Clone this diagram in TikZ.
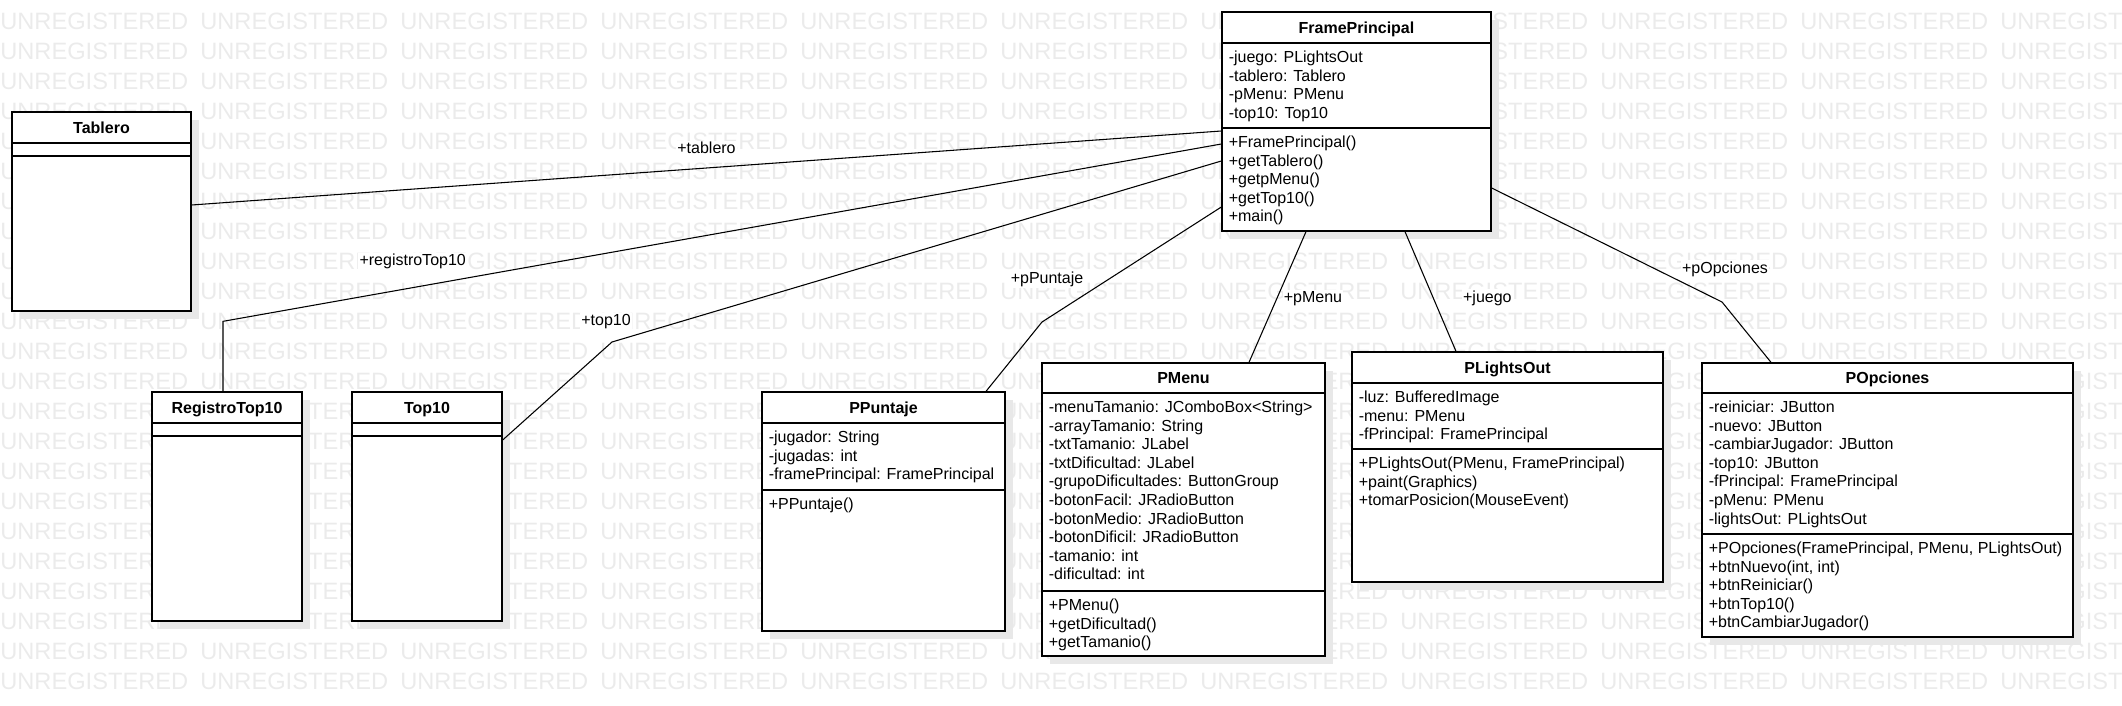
\documentclass[tikz,border=0pt]{standalone}
\usepackage{fontspec}
\setmainfont{Liberation Sans}
\usetikzlibrary{shadows,fit}

\newcommand{\umlfont}{\fontsize{12pt}{14pt}\selectfont}

\tikzset{
  cls/.style={draw, line width=1pt, fill=white, inner sep=0pt,
    drop shadow={shadow xshift=6pt, shadow yshift=-6pt, fill=black!9, opacity=1}},
  sepline/.style={line width=1pt},
  clsname/.style={anchor=base, inner sep=0pt, font=\umlfont\bfseries},
  member/.style={anchor=base west, inner sep=0pt, font=\umlfont},
  assoc/.style={line width=0.8pt},
  lbl/.style={fill=white, inner sep=1pt, font=\umlfont},
  wmark/.style={anchor=base west, inner sep=0pt, text=black!8,
    font=\fontsize{17.75pt}{20pt}\selectfont}
}

% box: name, x1, y1, x2, y2, first and second separator, class name
\newcommand{\umlclass}[8]{%
  \node[cls, fit={(#2,#3) (#4,#5)}] (#1) {};
  \draw[sepline] (#1.west |- 0,#6) -- (#1.east |- 0,#6)
                 (#1.west |- 0,#7) -- (#1.east |- 0,#7);
  \node[clsname] at ({(#2+#4)/2},#6-9.7) {#8};
}
% one compartment: left x, separator y, lines
\newcommand{\clsmembers}[3]{%
  \foreach \m [count=\i from 0] in {#3}
    \node[member] at (#1+6.5,#2+19.5+18.6*\i) {\m};
}

\begin{document}
\begin{tikzpicture}[x=0.75pt, y=-0.75pt]
  \useasboundingbox (0,0) rectangle (2122,706);
  % watermark
  \begin{scope}
    \clip (0,0) rectangle (2122,706);
    \foreach \row in {0,...,22}
      \foreach \col in {0,...,10}
        \node[wmark] at (200*\col,29.5+30*\row) {UNREGISTERED};
  \end{scope}

  \umlclass{fp}{1222}{12}{1491}{231}{43}{128}{FramePrincipal}
  \clsmembers{1222}{43}{-juego: PLightsOut, -tablero: Tablero, -pMenu: PMenu, -top10: Top10}
  \clsmembers{1222}{128}{+FramePrincipal(), +getTablero(), +getpMenu(), +getTop10(), +main()}

  \umlclass{tablero}{12}{112}{191}{311}{143}{156}{Tablero}
  \umlclass{rt}{152}{392}{302}{621}{423}{436}{RegistroTop10}
  \umlclass{top}{352}{392}{502}{621}{423}{436}{Top10}

  \umlclass{pp}{762}{392}{1005}{631}{423}{490}{PPuntaje}
  \clsmembers{762}{423}{-jugador: String, -jugadas: int, -framePrincipal: FramePrincipal}
  \clsmembers{762}{490}{+PPuntaje()}

  \umlclass{pm}{1042}{363}{1325}{656}{393}{591}{PMenu}
  \clsmembers{1042}{393}{-menuTamanio: JComboBox<String>, -arrayTamanio: String,
    -txtTamanio: JLabel, -txtDificultad: JLabel, -grupoDificultades: ButtonGroup,
    -botonFacil: JRadioButton, -botonMedio: JRadioButton, -botonDificil: JRadioButton,
    -tamanio: int, -dificultad: int}
  \clsmembers{1042}{591}{+PMenu(), +getDificultad(), +getTamanio()}

  \umlclass{plo}{1352}{352}{1663}{582}{383}{449}{PLightsOut}
  \clsmembers{1352}{383}{-luz: BufferedImage, -menu: PMenu, -fPrincipal: FramePrincipal}
  \clsmembers{1352}{449}{{+PLightsOut(PMenu, FramePrincipal)}, +paint(Graphics),
    +tomarPosicion(MouseEvent)}

  \umlclass{po}{1702}{363}{2073}{637}{393}{534}{POpciones}
  \clsmembers{1702}{393}{-reiniciar: JButton, -nuevo: JButton, -cambiarJugador: JButton,
    -top10: JButton, -fPrincipal: FramePrincipal, -pMenu: PMenu, -lightsOut: PLightsOut}
  \clsmembers{1702}{534}{{+POpciones(FramePrincipal, PMenu, PLightsOut)}, {+btnNuevo(int, int)},
    +btnReiniciar(), +btnTop10(), +btnCambiarJugador()}

  % associations
  \draw[assoc] (tablero.east |- 0,205) -- node[lbl, pos=.5, yshift=15pt] {+tablero} (fp.west |- 0,131);
  \draw[assoc] ([xshift=-3pt]rt.north) -- ++(0,-70)
    -- node[lbl, pos=.19, yshift=19.5pt] {+registroTop10} (fp.west |- 0,144);
  \draw[assoc] (top.east |- 0,440) -- (612,342) node[lbl, xshift=-4.5pt, yshift=15pt] {+top10}
    -- (fp.west |- 0,161);
  \draw[assoc] (pp.north -| 986,0) -- (1042,322) node[lbl, xshift=3.75pt, yshift=32.25pt] {+pPuntaje}
    -- (fp.west |- 0,207);
  \draw[assoc] (fp.south -| 1306,0) -- node[lbl, pos=.51, right=3.8pt] {+pMenu} (pm.north -| 1249,0);
  \draw[assoc] (fp.south -| 1405,0) -- node[lbl, pos=.554, right=21pt] {+juego} (plo.north -| 1456,0);
  \draw[assoc] (fp.east |- 0,188) -- (1722,302) node[lbl, xshift=2.25pt, yshift=24.75pt] {+pOpciones}
    -- (po.north -| 1771,0);
\end{tikzpicture}
\end{document}
